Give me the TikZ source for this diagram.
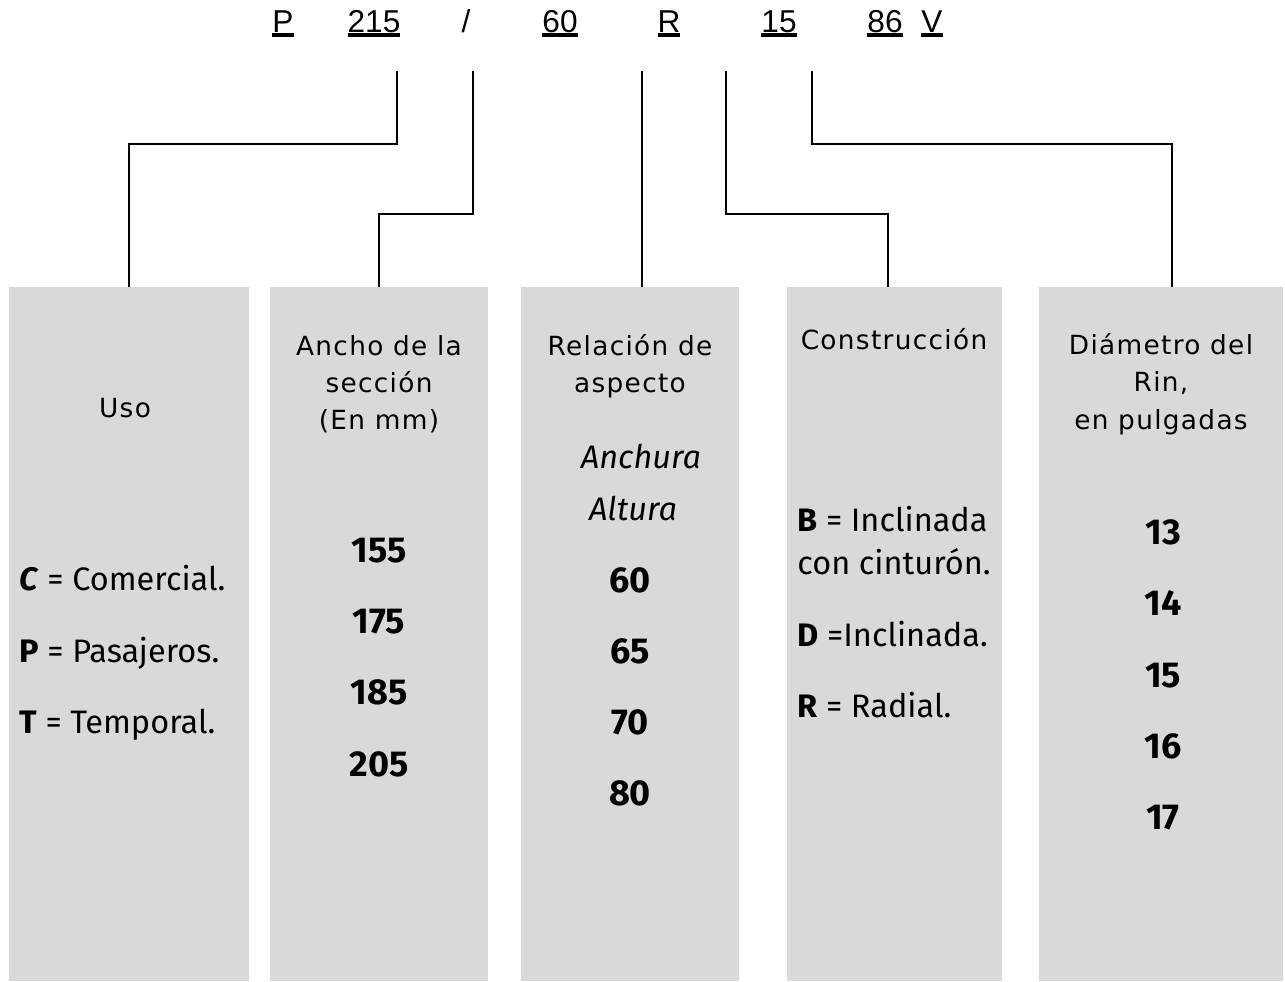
\documentclass[tikz,border=0pt]{standalone}
\usepackage{fontspec}
\setmainfont{Liberation Sans}
\newfontfamily\headfont[LetterSpace=5]{DejaVu Sans}
\newfontfamily\valfont{Fira Sans}
\definecolor{boxgray}{HTML}{D9D9D9}
\newcommand\ulab[1]{\setbox0\hbox{#1}\rlap{\rule[-3pt]{\wd0}{2.2pt}}\box0}

\begin{document}
\begin{tikzpicture}[
  x=0.02cm, y=-0.02cm,
  col/.style={fill=boxgray, inner sep=0pt, anchor=north west, minimum height=13.88cm},
  code/.style={anchor=base, inner sep=0pt, font=\fontsize{18}{21}\selectfont},
  head/.style={align=center, inner sep=0pt, font=\headfont\fontsize{15}{21.2}\selectfont},
  val/.style={anchor=base, inner sep=0pt, font=\valfont\bfseries\fontsize{20.5}{24}\selectfont},
  ital/.style={anchor=base, inner sep=0pt, font=\valfont\itshape\fontsize{18.5}{22}\selectfont},
  item/.style={anchor=base west, inner sep=0pt, font=\valfont\fontsize{18.5}{22}\selectfont},
  link/.style={line width=1.1pt}
]
\useasboundingbox (0,0) rectangle (1285,981);

% columns
\node[col, minimum width=4.8cm] (uso) at (9,287) {};
\node[col, minimum width=4.36cm] (ancho) at (270,287) {};
\node[col, minimum width=4.36cm] (rel) at (521,287) {};
\node[col, minimum width=4.3cm] (cons) at (787,287) {};
\node[col, minimum width=4.88cm] (diam) at (1039,287) {};

% tyre code
\node[code] (cP) at (283,32) {\ulab{P}};
\node[code] (c215) at (374,32) {\ulab{215}};
\node[code] (cslash) at (466,32) {/};
\node[code] (c60) at (560,32) {\ulab{60}};
\node[code] (cR) at (669,32) {\ulab{R}};
\node[code] (c15) at (779,32) {\ulab{15}};
\node[code] (c86) at (885,32) {\ulab{86}};
\node[code] (cV) at (932,32) {\ulab{V}};

\coordinate (tP) at (397,71);
\coordinate (t215) at (473,71);
\coordinate (t60) at (642,71);
\coordinate (tR) at (726,71);
\coordinate (t15) at (812,71);

\draw[link] (tP) -- ++(0,73) -| (uso.north);
\draw[link] (t215) -- ++(0,143) -| (ancho.north);
\draw[link] (t60) -- (t60 |- rel.north);
\draw[link] (tR) -- ++(0,143) -| ([xshift=-0.13cm]cons.north);
\draw[link] (t15) -- ++(0,73) -| ([xshift=0.22cm]diam.north);

% headings
\node[head, anchor=base] (huso) at (125,417) {Uso};
\node[head] (hancho) at (379,384) {Ancho de la\\sección\\(En mm)};
\node[head] (hrel) at (630,366) {Relación de\\aspecto};
\node[head, anchor=base] (hcons) at (894,349) {Construcción};
\node[head] (hdiam) at (1161,384) {Diámetro del\\Rin,\\en pulgadas};

% Uso
\node[item] (uC) at (19,590) {\textbf{\textit{C}} = Comercial.};
\node[item] (uP) at (19,662) {\textbf{P} = Pasajeros.};
\node[item] (uT) at (19,733) {\textbf{T} = Temporal.};

% ancho
\node[val] (a155) at (379,562) {155};
\node[val] (a175) at (379,633) {175};
\node[val] (a185) at (379,704) {185};
\node[val] (a205) at (379,776) {205};

% relacion
\node[ital] (anchura) at (641,468) {Anchura};
\node[ital] (altura) at (633,520) {Altura};
\node[val] (r60) at (630,592) {60};
\node[val] (r65) at (630,663) {65};
\node[val] (r70) at (630,734) {70};
\node[val] (r80) at (630,805) {80};

% construccion
\node[item] (kB) at (797,531) {\textbf{B} = Inclinada};
\node[item] (kB2) at (797,574) {con cinturón.};
\node[item] (kD) at (797,646) {\textbf{D} =Inclinada.};
\node[item] (kR) at (797,717) {\textbf{R} = Radial.};

% diametro
\node[val] (d13) at (1163,544) {13};
\node[val] (d14) at (1163,615) {14};
\node[val] (d15) at (1163,687) {15};
\node[val] (d16) at (1163,758) {16};
\node[val] (d17) at (1163,829) {17};
\end{tikzpicture}
\end{document}
